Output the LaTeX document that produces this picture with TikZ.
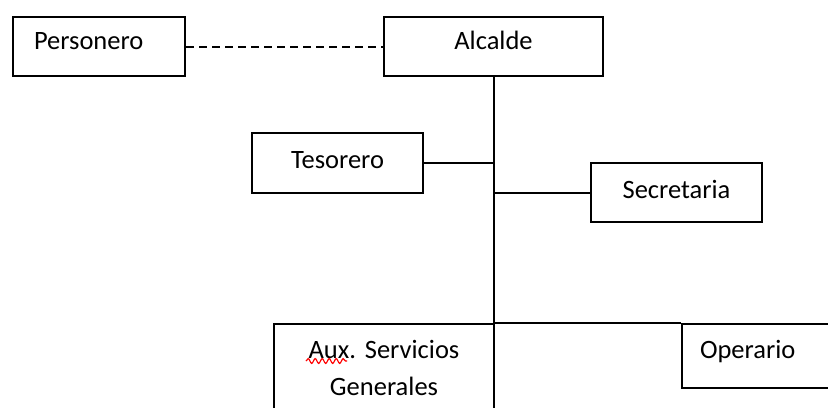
\documentclass[tikz,border=0pt]{standalone}
\usepackage{fontspec}
\setmainfont{Carlito}
\usetikzlibrary{decorations.pathmorphing}
\frenchspacing
\begin{document}
\begin{tikzpicture}[x=0.5pt,y=-0.5pt,
		cargo/.style={draw, line width=1pt, inner sep=0pt, anchor=north west, font=\fontsize{13.25}{18.5}\selectfont},
		enlace/.style={line width=1pt}]
		\useasboundingbox (0,0) rectangle (828,407);
		\clip (0,0) rectangle (828,407);
		% cargos
		\node[cargo, inner xsep=10.5pt, text width=65pt, align=left, text height=16pt, text depth=13.5pt] (personero) at (12,16) {Personero};
		\node[cargo, minimum width=109.5pt, text height=16pt, text depth=13.5pt] (alcalde) at (383,16) {Alcalde};
		\node[cargo, minimum width=85.5pt, text height=17.5pt, text depth=12.5pt] (tesorero) at (251,132) {Tesorero};
		\node[cargo, minimum width=85.5pt, text height=17.5pt, text depth=12pt] (secretaria) at (590,162) {Secretaria};
		\node[cargo, text width=110pt, align=center, text height=17pt, text depth=40pt] (aux) at (273,323) {Aux. Servicios\\Generales};
		\node[cargo, inner xsep=9pt, text width=70pt, align=left, text height=17pt, text depth=15pt] (operario) at (681,323) {Operario};
		% lineas
		\draw[enlace, dash pattern=on 4pt off 2.5pt] (personero.east) -- (alcalde.west);
		\draw[enlace] (alcalde.south) -- (alcalde.south |- aux.south);
		\draw[enlace] (tesorero.east) -- (tesorero.east -| alcalde.south);
		\draw[enlace] (secretaria.west) -- (secretaria.west -| alcalde.south);
		\draw[enlace] (aux.north east) -- (operario.north west);
		% marca roja bajo Aux
		\draw[red, line width=0.6pt, decorate, decoration={snake, amplitude=1.2pt, segment length=3.5pt}] (306,361) -- (347,361);
\end{tikzpicture}
\end{document}
